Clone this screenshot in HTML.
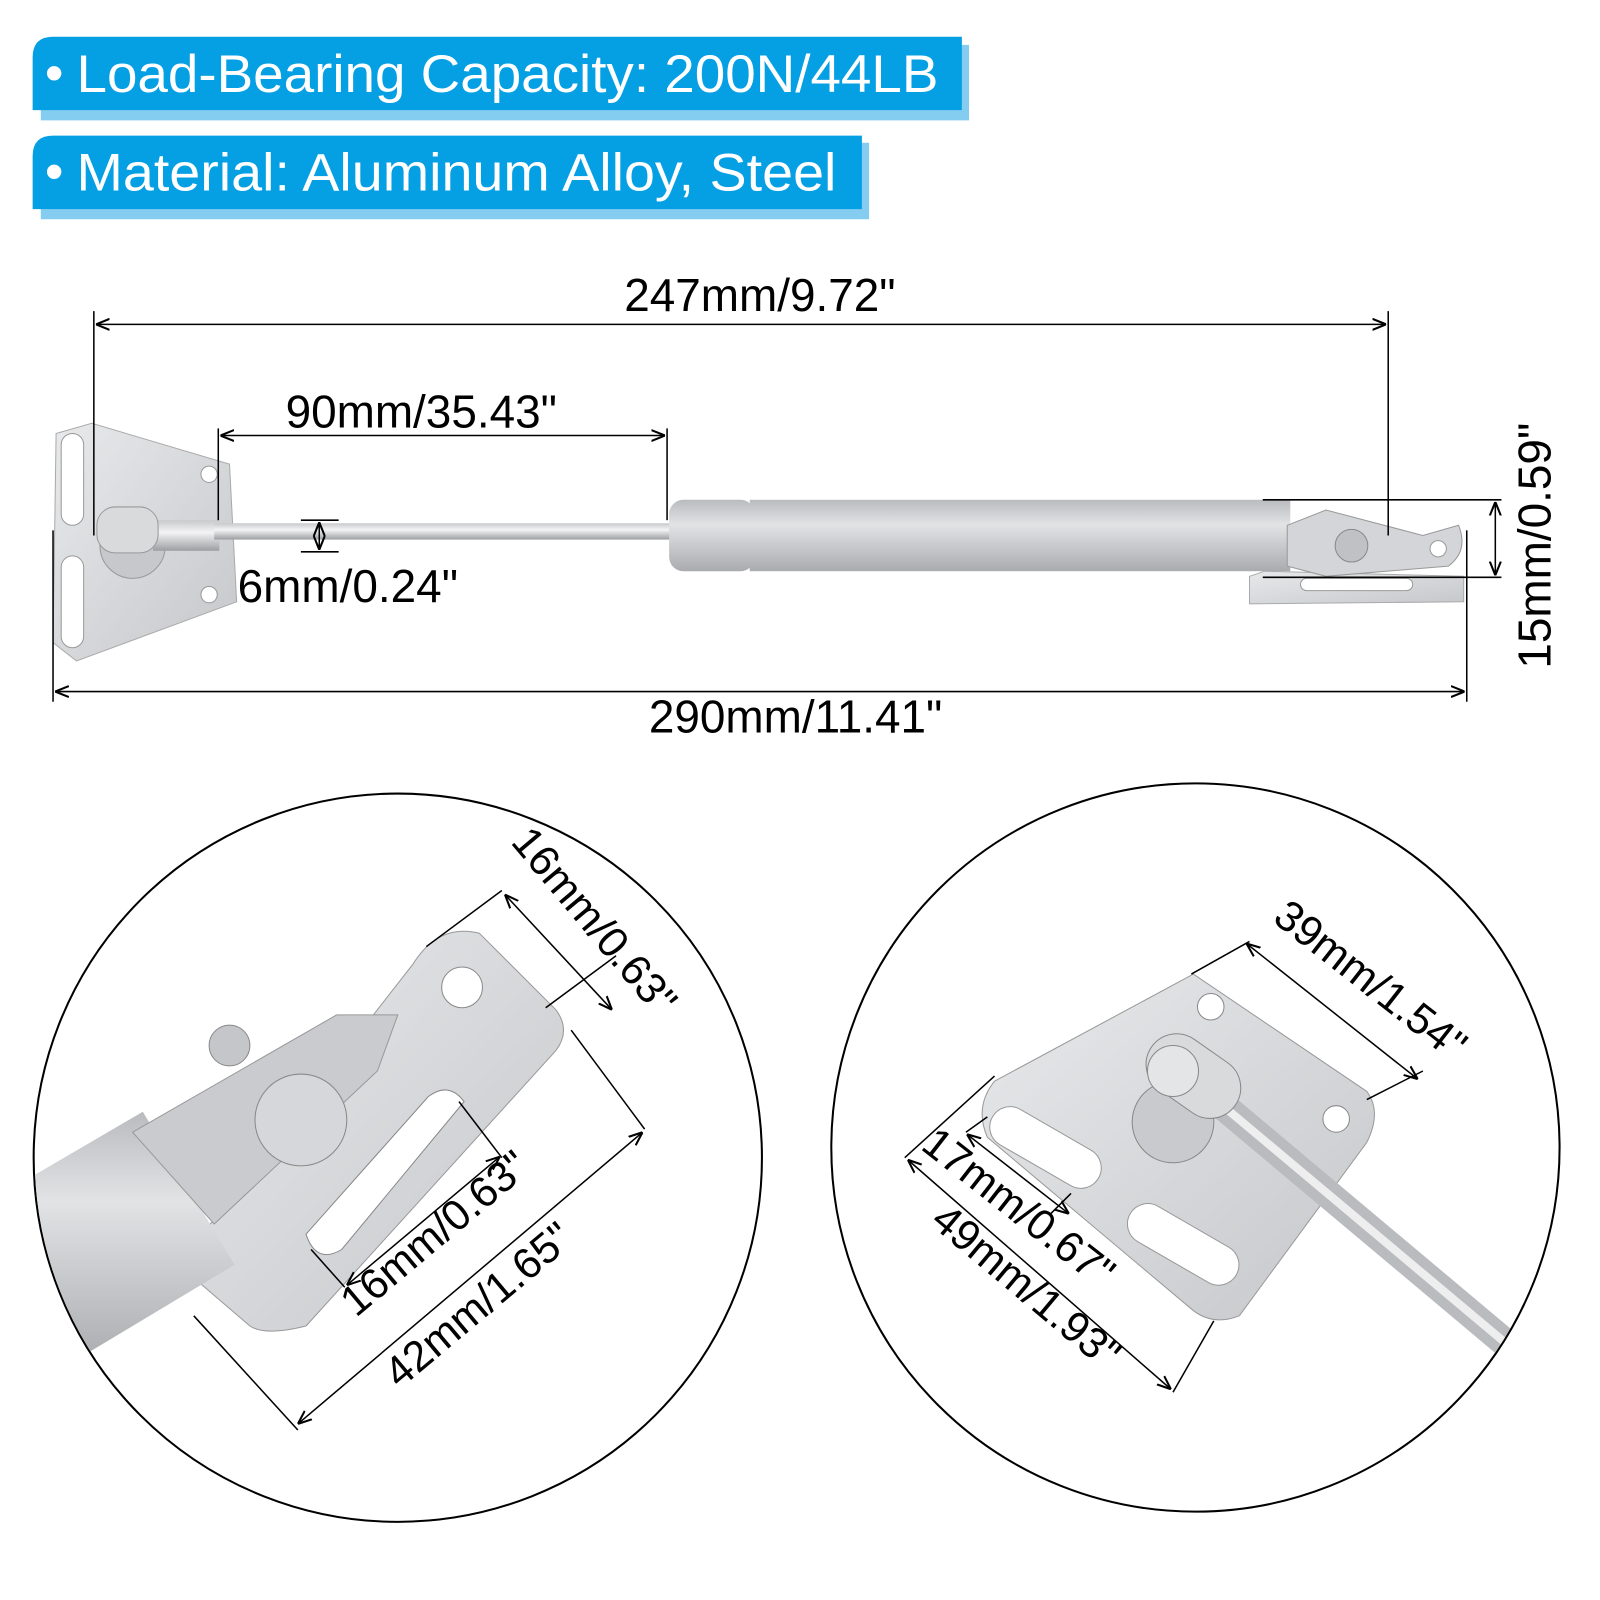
<!DOCTYPE html>
<html><head><style>
html,body{margin:0;padding:0;background:#fff;width:1600px;height:1600px;overflow:hidden}
svg{display:block}
text{font-family:"Liberation Sans",sans-serif}
</style></head><body>
<svg width="1600" height="1600" viewBox="0 0 1600 1600" xmlns="http://www.w3.org/2000/svg">
<defs>
<linearGradient id="cyl" x1="0" y1="0" x2="0" y2="1"><stop offset="0" stop-color="#b9bbbe"/><stop offset="0.35" stop-color="#e2e3e5"/><stop offset="1" stop-color="#a9abae"/></linearGradient>
<linearGradient id="rod" x1="0" y1="0" x2="0" y2="1"><stop offset="0" stop-color="#c8c9cb"/><stop offset="0.4" stop-color="#f4f4f5"/><stop offset="1" stop-color="#9c9ea1"/></linearGradient>
<linearGradient id="plate" x1="0" y1="0" x2="1" y2="1"><stop offset="0" stop-color="#e8e9eb"/><stop offset="1" stop-color="#c5c7ca"/></linearGradient>
<marker id="a" viewBox="0 0 10 10" refX="10" refY="5" markerWidth="9" markerHeight="9" orient="auto-start-reverse"><path d="M0,1 L10,5 L0,9" fill="none" stroke="#000" stroke-width="1.5"/></marker>
<clipPath id="c1"><circle cx="390" cy="1135" r="356"/></clipPath>
<clipPath id="c2"><circle cx="1172" cy="1125" r="356"/></clipPath>
</defs>
<g transform="scale(1.02)">
<!-- banners -->
<path d="M40,48 Q40,44 50,44 L950,44 L950,118 L40,118 Z" fill="#84cdf0"/>
<path d="M32,56 Q32,36 52,36 L943,36 L943,108 L32,108 Z" fill="#059fe4"/>
<text x="44" y="89" font-size="52" fill="#fff">•</text>
<text x="75" y="90" font-size="52" fill="#fff" textLength="845" lengthAdjust="spacingAndGlyphs">Load-Bearing Capacity: 200N/44LB</text>
<path d="M40,143 Q40,140 50,140 L852,140 L852,215 L40,215 Z" fill="#84cdf0"/>
<path d="M32,153 Q32,133 52,133 L845,133 L845,205 L32,205 Z" fill="#059fe4"/>
<text x="44" y="186" font-size="52" fill="#fff">•</text>
<text x="75" y="187" font-size="52" fill="#fff" textLength="745" lengthAdjust="spacingAndGlyphs">Material: Aluminum Alloy, Steel</text>

<!-- strut -->
<path d="M55,425 L90,415 L225,455 L232,590 L75,648 L52,630 Z" fill="url(#plate)" stroke="#aaa"/>
<rect x="60" y="425" width="22" height="90" rx="11" fill="#fff" stroke="#999"/>
<rect x="60" y="545" width="22" height="90" rx="11" fill="#fff" stroke="#999"/>
<circle cx="205" cy="465" r="8" fill="#fff" stroke="#999"/>
<circle cx="205" cy="583" r="8" fill="#fff" stroke="#999"/>
<circle cx="130" cy="535" r="32" fill="#c6c8cb" stroke="#999"/>
<rect x="150" y="510" width="65" height="30" fill="url(#rod)"/>
<rect x="95" y="497" width="60" height="45" rx="18" fill="#d9dadc" stroke="#999"/>
<rect x="210" y="513" width="448" height="16" fill="url(#rod)"/>
<rect x="656" y="490" width="84" height="70" rx="14" fill="url(#cyl)"/>
<rect x="735" y="490" width="530" height="70" fill="url(#cyl)"/>
<path d="M1225,565 L1240,560 L1435,565 L1435,590 L1225,592 Z" fill="url(#plate)" stroke="#aaa"/>
<rect x="1275" y="567" width="110" height="12" rx="6" fill="#fff" stroke="#999"/>
<path d="M1262,515 L1300,500 L1395,525 L1430,515 Q1440,540 1420,555 L1300,565 L1262,555 Z" fill="#d3d5d8" stroke="#999"/>
<circle cx="1410" cy="538" r="8" fill="#fff" stroke="#999"/>
<circle cx="1325" cy="535" r="16" fill="#bfc1c4" stroke="#888"/>

<!-- dims -->
<g stroke="#000" stroke-width="1.5" fill="none">
<line x1="92" y1="305" x2="92" y2="525"/><line x1="1361" y1="305" x2="1361" y2="525"/>
<line x1="94" y1="318" x2="1359" y2="318" marker-start="url(#a)" marker-end="url(#a)"/>
<line x1="214" y1="420" x2="214" y2="510"/><line x1="654" y1="420" x2="654" y2="510"/>
<line x1="216" y1="427" x2="652" y2="427" marker-start="url(#a)" marker-end="url(#a)"/>
<line x1="295" y1="510" x2="332" y2="510"/><line x1="295" y1="541" x2="332" y2="541"/>
<line x1="313" y1="512" x2="313" y2="539" marker-start="url(#a)" marker-end="url(#a)"/>
<line x1="52" y1="520" x2="52" y2="688"/><line x1="1438" y1="520" x2="1438" y2="688"/>
<line x1="54" y1="678" x2="1436" y2="678" marker-start="url(#a)" marker-end="url(#a)"/>
<line x1="1238" y1="490" x2="1472" y2="490"/><line x1="1238" y1="566" x2="1472" y2="566"/>
<line x1="1466" y1="492" x2="1466" y2="564" marker-start="url(#a)" marker-end="url(#a)"/>
</g>
<g font-size="45" fill="#000">
<text x="745" y="305" text-anchor="middle">247mm/9.72"</text>
<text x="413" y="419" text-anchor="middle">90mm/35.43"</text>
<text x="233" y="590">6mm/0.24"</text>
<text x="780" y="718" text-anchor="middle">290mm/11.41"</text>
<text transform="translate(1520,535) rotate(-90)" text-anchor="middle">15mm/0.59"</text>
</g>

<!-- left circle -->
<circle cx="390" cy="1135" r="357" fill="#fff" stroke="#000" stroke-width="2"/>
<g clip-path="url(#c1)">
<path d="M175,1240 L405,945 Q430,905 470,915 L545,990 Q560,1010 545,1030 L300,1300 Q260,1310 245,1300 Z" fill="url(#plate)" stroke="#999"/>
<circle cx="453" cy="968" r="20" fill="#fff" stroke="#888"/>
<path d="M300,1210 L420,1075 Q440,1060 455,1080 L335,1225 Q310,1240 300,1210 Z" fill="#fff" stroke="#888"/>
<path d="M20,1160 L140,1090 L230,1240 L80,1330 L20,1340 Z" fill="url(#cyl)"/>
<path d="M130,1110 L330,995 L390,995 L370,1050 L210,1200 Z" fill="#c9cbce" stroke="#999"/>
<circle cx="295" cy="1098" r="45" fill="#d6d7da" stroke="#888"/>
<circle cx="225" cy="1025" r="20" fill="#c4c6c9" stroke="#888"/>
</g>
<g stroke="#000" stroke-width="1.5" fill="none">
<line x1="418" y1="928" x2="492" y2="873"/><line x1="535" y1="988" x2="604" y2="937"/>
<line x1="495" y1="877" x2="600" y2="990" marker-start="url(#a)" marker-end="url(#a)"/>
<line x1="560" y1="1010" x2="632" y2="1107"/><line x1="190" y1="1290" x2="292" y2="1402"/>
<line x1="630" y1="1110" x2="292" y2="1396" marker-start="url(#a)" marker-end="url(#a)"/>
<line x1="450" y1="1080" x2="492" y2="1135"/><line x1="305" y1="1225" x2="338" y2="1262"/>
<line x1="490" y1="1134" x2="340" y2="1260" marker-start="url(#a)" marker-end="url(#a)"/>
</g>
<g font-size="42" fill="#000">
<text transform="translate(572,912) rotate(50)" text-anchor="middle">16mm/0.63"</text>
<text transform="translate(435,1220) rotate(-40)" text-anchor="middle">16mm/0.63"</text>
<text transform="translate(478,1290) rotate(-40)" text-anchor="middle">42mm/1.65"</text>
</g>

<!-- right circle -->
<circle cx="1172" cy="1125" r="357" fill="#fff" stroke="#000" stroke-width="2"/>
<g clip-path="url(#c2)">
<path d="M975,1060 L1170,955 L1340,1070 Q1355,1090 1340,1120 L1215,1290 Q1190,1300 1170,1285 L968,1115 Q955,1085 975,1060 Z" fill="url(#plate)" stroke="#999"/>
<circle cx="1187" cy="987" r="13" fill="#fff" stroke="#888"/>
<circle cx="1310" cy="1097" r="13" fill="#fff" stroke="#888"/>
<rect x="965" y="1105" width="120" height="40" rx="20" fill="#fff" stroke="#999" transform="rotate(30 1025 1125)"/>
<rect x="1100" y="1200" width="120" height="40" rx="20" fill="#fff" stroke="#999" transform="rotate(30 1160 1220)"/>
<circle cx="1150" cy="1100" r="40" fill="#c8cacd" stroke="#888"/>
<line x1="1200" y1="1085" x2="1480" y2="1320" stroke="#b9bbbe" stroke-width="28"/>
<line x1="1200" y1="1085" x2="1480" y2="1320" stroke="#eee" stroke-width="8"/>
<rect x="1120" y="1025" width="100" height="60" rx="30" fill="#d9dadc" stroke="#888" transform="rotate(35 1170 1055)"/>
<circle cx="1150" cy="1050" r="25" fill="#e4e5e7" stroke="#888"/>
</g>
<g stroke="#000" stroke-width="1.5" fill="none">
<line x1="1168" y1="955" x2="1225" y2="923"/><line x1="1340" y1="1078" x2="1395" y2="1050"/>
<line x1="1222" y1="925" x2="1390" y2="1058" marker-start="url(#a)" marker-end="url(#a)"/>
<line x1="975" y1="1055" x2="887" y2="1135"/><line x1="1190" y1="1295" x2="1150" y2="1365"/>
<line x1="890" y1="1137" x2="1148" y2="1362" marker-start="url(#a)" marker-end="url(#a)"/>
<line x1="968" y1="1095" x2="947" y2="1110"/><line x1="1050" y1="1170" x2="1030" y2="1190"/>
<line x1="948" y1="1112" x2="1048" y2="1190" marker-start="url(#a)" marker-end="url(#a)"/>
</g>
<g font-size="42" fill="#000">
<text transform="translate(1335,972) rotate(38)" text-anchor="middle">39mm/1.54"</text>
<text transform="translate(990,1195) rotate(38)" text-anchor="middle">17mm/0.67"</text>
<text transform="translate(997,1272) rotate(40)" text-anchor="middle">49mm/1.93"</text>
</g>
</g>
</svg>
</body></html>
